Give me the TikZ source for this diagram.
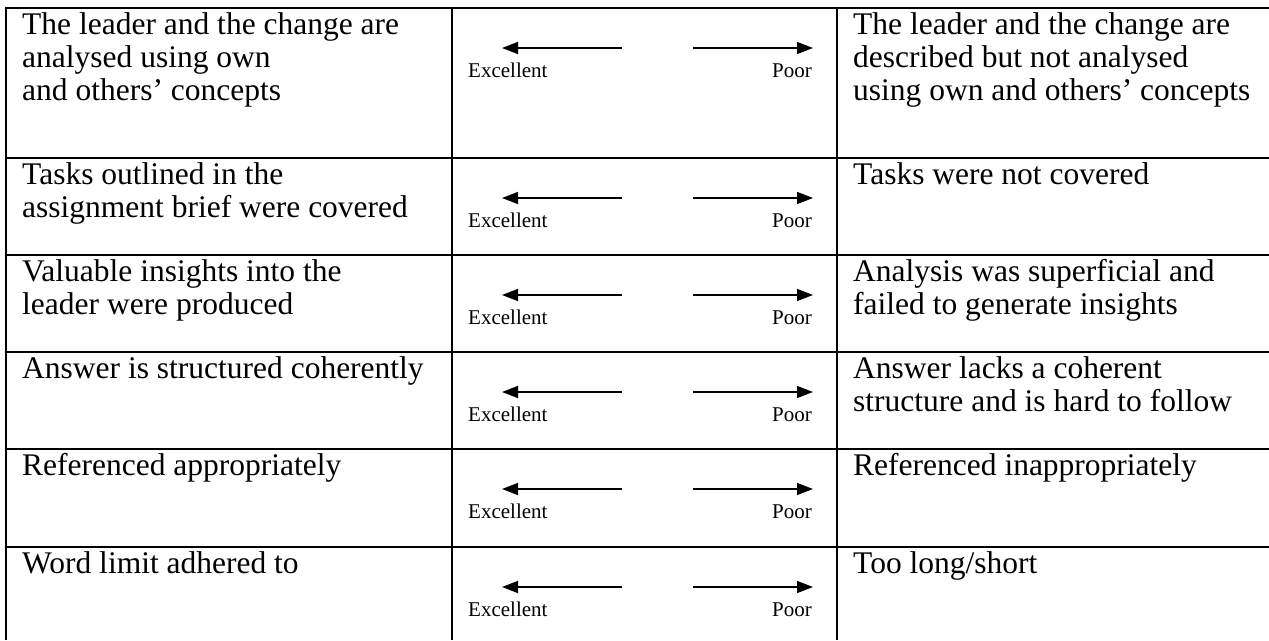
\documentclass[tikz,border=0pt]{standalone}
\usepackage{fontspec}
\setmainfont{Liberation Serif}
\usetikzlibrary{arrows.meta}
\newcommand\myfirst{\rule{0pt}{26pt}}
\begin{document}
\begin{tikzpicture}[x=1pt,y=-1pt,
  grid/.style={line width=2.6pt},
  celltext/.style={anchor=north west,inner sep=0pt,align=left,font=\fontsize{31.5}{33}\selectfont},
  scalelabel/.style={inner sep=0pt,font=\fontsize{21}{24}\selectfont},
  arr/.style={line width=1.5pt,-{Triangle[length=16pt,width=12pt]}}]
\useasboundingbox (0,0) rectangle (1269,640);
% grid
\draw[grid] (6,640) -- (6,8) -- (1269,8);
\foreach \y in {158,255,352,449,547} \draw[grid] (6,\y) -- (1269,\y);
\draw[grid] (452,8) -- (452,640);
\draw[grid] (837,8) -- (837,640);
% middle column scales
\foreach \t [count=\i] in {8,158,255,352,449,547} {
  \coordinate (lt\i) at (622,\t+40);
  \coordinate (lh\i) at (502,\t+40);
  \coordinate (rt\i) at (693,\t+40);
  \coordinate (rh\i) at (813,\t+40);
  \draw[arr] (lt\i) -- (lh\i);
  \draw[arr] (rt\i) -- (rh\i);
  \node[scalelabel,anchor=base west] (ex\i) at (468,\t+69) {Excellent};
  \node[scalelabel,anchor=base east] (po\i) at (812,\t+69) {Poor};
}
% left column
\node[celltext] (L1) at (22,8) {\myfirst The leader and the change are\\analysed using own\\and others' concepts};
\node[celltext] (L2) at (22,158) {\myfirst Tasks outlined in the\\assignment brief were covered};
\node[celltext] (L3) at (22,255) {\myfirst Valuable insights into the\\leader were produced};
\node[celltext] (L4) at (22,352) {\myfirst Answer is structured coherently};
\node[celltext] (L5) at (22,449) {\myfirst Referenced appropriately};
\node[celltext] (L6) at (22,547) {\myfirst Word limit adhered to};
% right column
\node[celltext] (R1) at (853,8) {\myfirst The leader and the change are\\described but not analysed\\using own and others' concepts};
\node[celltext] (R2) at (853,158) {\myfirst Tasks were not covered};
\node[celltext] (R3) at (853,255) {\myfirst Analysis was superficial and\\failed to generate insights};
\node[celltext] (R4) at (853,352) {\myfirst Answer lacks a coherent\\structure and is hard to follow};
\node[celltext] (R5) at (853,449) {\myfirst Referenced inappropriately};
\node[celltext] (R6) at (853,547) {\myfirst Too long/short};
\end{tikzpicture}
\end{document}
